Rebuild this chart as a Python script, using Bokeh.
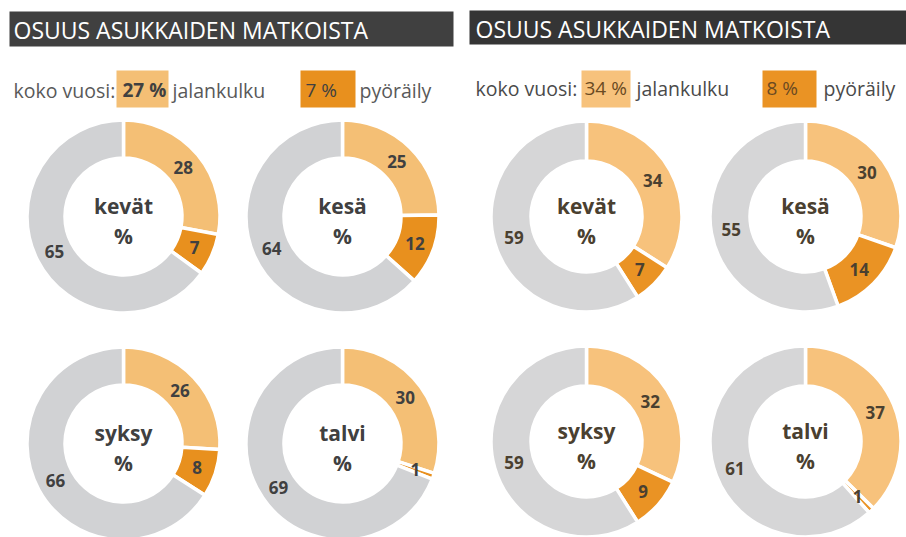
import math
from bokeh.plotting import figure
from bokeh.models import Range1d, ColumnDataSource
from bokeh.core.properties import value
from bokeh.embed import file_html
from bokeh.resources import INLINE

# ---------------- data ----------------
title = "OSUUS ASUKKAIDEN MATKOISTA"
seasons = ["kevät", "kesä", "syksy", "talvi"]
categories = ["jalankulku", "pyöräily", "muu"]

left_jalankulku = [28, 25, 26, 30]
left_pyoraily = [7, 12, 8, 1]
left_muu = [65, 64, 66, 69]
left_year = [27, 7]   # koko vuosi: jalankulku %, pyöräily %

right_jalankulku = [34, 30, 32, 37]
right_pyoraily = [7, 14, 9, 1]
right_muu = [59, 55, 59, 61]
right_year = [34, 8]

# ---------------- layout / style ----------------
W, H = 906, 537
FONT = value("Open Sans")
def Y(ys):
    return H - ys

p = figure(width=W, height=H, x_range=Range1d(0, W), y_range=Range1d(0, H),
           output_backend="svg", toolbar_location=None, min_border=0,
           outline_line_color=None, background_fill_color="white",
           border_fill_color="white")
p.axis.visible = False
p.grid.visible = False

panels = [
    dict(x0=9, x1=453, ty0=11, ty1=46, bar="#404040", tx=13, tmid=29,
         jal=left_jalankulku, pyo=left_pyoraily, muu=left_muu, year=left_year,
         centers=[(123, 216), (342, 216), (123, 443), (342, 443)],
         r_in=60, r_out=95,
         cols=["#F4BF75", "#E8901E", "#D1D2D4"],
         kx=13, mid=89.5, b1=(116, 168), b2=(300, 355), b1t=122, b2t=305,
         jt=172, pt=359, boxtxt="#404040", b1bold=True, txt="#595959", lab="#404040"),
    dict(x0=469, x1=906, ty0=10, ty1=44, bar="#353535", tx=475, tmid=28,
         jal=right_jalankulku, pyo=right_pyoraily, muu=right_muu, year=right_year,
         centers=[(586, 216), (805, 216), (586, 441), (805, 441)],
         r_in=57, r_out=94,
         cols=["#F7C27C", "#EA9324", "#D6D6D7"],
         kx=475, mid=87.5, b1=(581, 630), b2=(762, 816), b1t=584, b2t=766,
         jt=636, pt=823, boxtxt="#6A4A22", b1bold=False, txt="#4A4A4A", lab="#4A4030"),
]

for pn in panels:
    # title bar
    p.quad(left=[pn["x0"]], right=[pn["x1"]], top=[Y(pn["ty0"])], bottom=[Y(pn["ty1"])],
           fill_color=pn["bar"], line_color=None)
    p.text(x=[pn["tx"]], y=[Y(pn["tmid"])], text=[title], text_font=FONT,
           text_font_size="23px", text_color="white", text_baseline="middle")

    # koko vuosi row
    p.quad(left=[pn["b1"][0]], right=[pn["b1"][1]], top=[Y(70)], bottom=[Y(107)],
           fill_color=pn["cols"][0], line_color=None)
    p.quad(left=[pn["b2"][0]], right=[pn["b2"][1]], top=[Y(70)], bottom=[Y(107)],
           fill_color=pn["cols"][1], line_color=None)
    ym = Y(pn["mid"])
    p.text(x=[pn["kx"]], y=[ym], text=["koko vuosi:"], text_font=FONT,
           text_font_size="19.5px", text_color=pn["txt"], text_baseline="middle")
    p.text(x=[pn["b1t"]], y=[ym], text=[f"{pn['year'][0]} %"], text_font=FONT,
           text_font_size="19px", text_color=pn["boxtxt"], text_baseline="middle",
           text_font_style="bold" if pn["b1bold"] else "normal")
    p.text(x=[pn["b2t"]], y=[ym], text=[f"{pn['year'][1]} %"], text_font=FONT,
           text_font_size="19px", text_color=pn["boxtxt"], text_baseline="middle")
    p.text(x=[pn["jt"]], y=[ym], text=[categories[0]], text_font=FONT,
           text_font_size="19.5px", text_color=pn["txt"], text_baseline="middle")
    p.text(x=[pn["pt"]], y=[ym], text=[categories[1]], text_font=FONT,
           text_font_size="19.5px", text_color=pn["txt"], text_baseline="middle")

    # donuts
    wx, wy, st, en, fc = [], [], [], [], []
    lx, ly, lt = [], [], []
    for i, s in enumerate(seasons):
        vals = [pn["jal"][i], pn["pyo"][i], pn["muu"][i]]
        tot = float(sum(vals))
        cx, cy = pn["centers"][i]
        cum = 0.0
        for k, v in enumerate(vals):
            a0 = cum / tot
            a1 = (cum + v) / tot
            wx.append(cx); wy.append(Y(cy))
            st.append(math.pi / 2 - 2 * math.pi * a1)
            en.append(math.pi / 2 - 2 * math.pi * a0)
            fc.append(pn["cols"][k])
            th = 2 * math.pi * (a0 + a1) / 2
            rm = (pn["r_in"] + pn["r_out"]) / 2
            lx.append(cx + rm * math.sin(th))
            ly.append(Y(cy) + rm * math.cos(th))
            lt.append(str(v))
            cum += v
        p.text(x=[cx], y=[Y(cy) + 11], text=[s], text_font=FONT, text_font_size="21px",
               text_font_style="bold", text_color=pn["lab"], text_align="center",
               text_baseline="middle")
        p.text(x=[cx], y=[Y(cy) - 19], text=["%"], text_font=FONT, text_font_size="21px",
               text_font_style="bold", text_color=pn["lab"], text_align="center",
               text_baseline="middle")
    src = ColumnDataSource(dict(x=wx, y=wy, start=st, end=en, color=fc))
    p.annular_wedge(x="x", y="y", inner_radius=pn["r_in"] - 1.5, outer_radius=pn["r_out"] + 1.5,
                    start_angle="start", end_angle="end", fill_color="color",
                    line_color="white", line_width=3.5, source=src)
    p.text(x=lx, y=ly, text=lt, text_font=FONT, text_font_size="17px",
           text_font_style="bold", text_color=pn["lab"], text_align="center",
           text_baseline="middle")

open("out.html", "w").write(file_html(p, INLINE))
